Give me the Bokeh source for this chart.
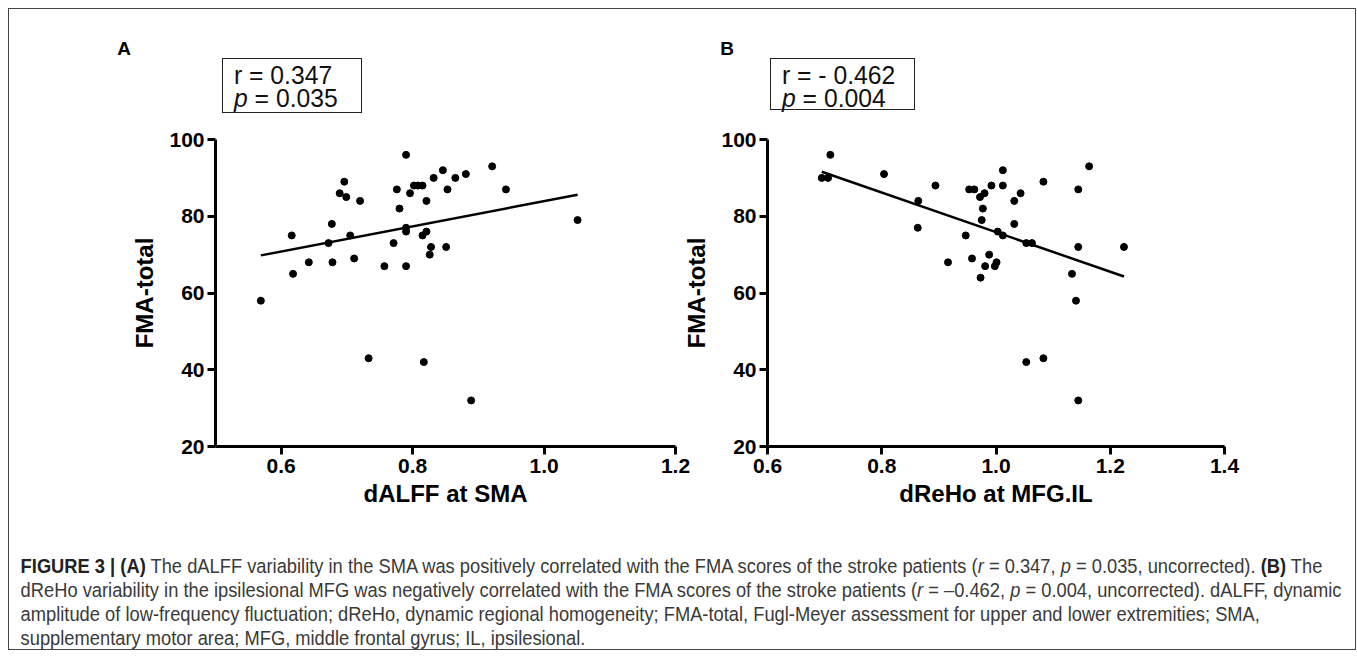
from bokeh.plotting import figure
from bokeh.models import Range1d, FixedTicker, PrintfTickFormatter, Div
from bokeh.layouts import row, column
from bokeh.embed import file_html
from bokeh.resources import INLINE

# ---------------- data ----------------
a_x = [0.569, 0.616, 0.618, 0.642, 0.672, 0.677, 0.678, 0.689, 0.696, 0.699,
       0.705, 0.711, 0.720, 0.733, 0.757, 0.771, 0.776, 0.780, 0.790, 0.790,
       0.790, 0.790, 0.796, 0.802, 0.808, 0.815, 0.821, 0.815, 0.821, 0.817,
       0.826, 0.828, 0.832, 0.846, 0.853, 0.851, 0.865, 0.881, 0.889, 0.921,
       0.942, 1.051]
a_y = [58, 75, 65, 68, 73, 78, 68, 86, 89, 85,
       75, 69, 84, 43, 67, 73, 87, 82, 96, 76,
       77, 67, 86, 88, 88, 88, 84, 75, 76, 42,
       70, 72, 90, 92, 87, 72, 90, 91, 32, 93,
       87, 79]
fit_a_x = [0.569, 1.051]
fit_a_y = [69.8, 85.6]

b_x = [0.695, 0.706, 0.710, 0.804, 0.864, 0.863, 0.894, 0.916, 0.947, 0.953,
       0.962, 0.958, 0.972, 0.980, 0.977, 0.975, 0.973, 0.981, 0.988, 0.992,
       0.998, 1.001, 1.003, 1.012, 1.012, 1.012, 1.032, 1.032, 1.043, 1.053,
       1.053, 1.063, 1.083, 1.083, 1.133, 1.140, 1.144, 1.144, 1.144, 1.163,
       1.224]
b_y = [90, 90, 96, 91, 84, 77, 88, 68, 75, 87,
       87, 69, 85, 86, 82, 79, 64, 67, 70, 88,
       67, 68, 76, 92, 88, 75, 84, 78, 86, 42,
       73, 73, 89, 43, 65, 58, 87, 72, 32, 93,
       72]
fit_b_x = [0.695, 1.224]
fit_b_y = [91.6, 64.3]

y_ticks = [20, 40, 60, 80, 100]
a_x_ticks = [0.6, 0.8, 1.0, 1.2]
b_x_ticks = [0.6, 0.8, 1.0, 1.2, 1.4]

stats_a = ["r = 0.347", "= 0.035"]
stats_b = ["r = - 0.462", "= 0.004"]

FONT = "Liberation Sans"


def style_axes(p, xticks, xlabel):
    p.xgrid.visible = False
    p.ygrid.visible = False
    p.outline_line_color = None
    p.xaxis.ticker = FixedTicker(ticks=xticks)
    p.yaxis.ticker = FixedTicker(ticks=y_ticks)
    p.xaxis.formatter = PrintfTickFormatter(format="%.1f")
    p.yaxis.formatter = PrintfTickFormatter(format="%d")
    p.xaxis.axis_label = xlabel
    p.yaxis.axis_label = "FMA-total"
    for ax in (p.xaxis[0], p.yaxis[0]):
        ax.axis_line_width = 3
        ax.axis_line_color = "black"
        ax.major_tick_line_width = 3
        ax.major_tick_line_color = "black"
        ax.major_tick_out = 8
        ax.major_tick_in = 0
        ax.minor_tick_line_color = None
        ax.major_label_text_font = FONT
        ax.major_label_text_font_style = "bold"
        ax.major_label_text_font_size = "21px"
        ax.major_label_text_color = "black"
        ax.axis_label_text_font = FONT
        ax.axis_label_text_font_style = "bold"
        ax.axis_label_text_font_size = "24px"
        ax.axis_label_text_color = "black"
    p.xaxis.major_label_standoff = 4
    p.xaxis.axis_label_standoff = 4
    p.yaxis.major_label_standoff = 3
    p.yaxis.axis_label_standoff = 8


# ---------------- panel A ----------------
pa = figure(frame_width=460, frame_height=307,
            min_border_left=206, min_border_right=17,
            min_border_top=24, min_border_bottom=94,
            x_range=Range1d(0.5, 1.2), y_range=Range1d(20, 100),
            output_backend="svg", toolbar_location=None,
            background_fill_color="white", border_fill_color="white")
style_axes(pa, a_x_ticks, "dALFF at SMA")
pa.scatter(a_x, a_y, size=7, color="black")
pa.line(fit_a_x, fit_a_y, line_width=2.5, color="black")

# ---------------- panel B ----------------
pb = figure(frame_width=457, frame_height=307,
            min_border_left=86, min_border_right=131,
            min_border_top=22, min_border_bottom=96,
            x_range=Range1d(0.6, 1.4), y_range=Range1d(20, 100),
            output_backend="svg", toolbar_location=None,
            background_fill_color="white", border_fill_color="white",
            border_fill_alpha=0.0,
            styles={"margin-left": "-12px"})
style_axes(pb, b_x_ticks, "dReHo at MFG.IL")
pb.scatter(b_x, b_y, size=7, color="black")
pb.line(fit_b_x, fit_b_y, line_width=2.5, color="black")

# ---------------- panel letters and statistics boxes ----------------
def stat_box(left, top, w, h, texts):
    txt = ("font-family:'Liberation Sans',sans-serif;font-size:26px;color:#111;"
           "position:absolute;left:11px;white-space:nowrap;"
           "transform:scaleX(0.95);transform-origin:left center;line-height:22px;height:22px;")
    return (f"<div style='position:absolute;left:{left}px;top:{top}px;width:{w}px;height:{h}px;"
            f"border:1.3px solid #222;box-sizing:border-box;'>"
            f"<div style=\"{txt}top:5px;\">{texts[0]}</div>"
            f"<div style=\"{txt}top:28px;\"><i>p</i> {texts[1]}</div>"
            f"</div>")


letter = ("position:absolute;font-family:'Liberation Sans',sans-serif;font-weight:bold;"
          "font-size:19px;color:#000;transform:translate(-50%,-50%);")
top_html = (
    "<div style='position:relative;width:1345px;height:106px;'>"
    f"<div style=\"{letter}left:115px;top:40px;\">A</div>"
    + stat_box(213, 49, 140, 55, stats_a)
    + f"<div style=\"{letter}left:718px;top:40px;\">B</div>"
    + stat_box(761, 49, 145, 52, stats_b)
    + "</div>"
)
top = Div(text=top_html, width=1345, height=106, margin=0)

# ---------------- caption ----------------
cap_html = (
    "<div style=\"font-family:'Liberation Sans',sans-serif;"
    "font-size:20.5px;line-height:24px;color:#3a3a3a;white-space:nowrap;"
    "padding:14px 0 0 13px;transform:scaleX(0.893);transform-origin:left top;\">"
    "<b style='color:#222'>FIGURE 3 | (A)</b> The dALFF variability in the SMA was positively "
    "correlated with the FMA scores of the stroke patients (<i>r</i> = 0.347, <i>p</i> = 0.035, "
    "uncorrected). <b style='color:#222'>(B)</b> The<br>"
    "dReHo variability in the ipsilesional MFG was negatively correlated with the FMA scores of "
    "the stroke patients (<i>r</i> = \u20130.462, <i>p</i> = 0.004, uncorrected). dALFF, dynamic<br>"
    "amplitude of low-frequency fluctuation; dReHo, dynamic regional homogeneity; FMA-total, "
    "Fugl-Meyer assessment for upper and lower extremities; SMA,<br>"
    "supplementary motor area; MFG, middle frontal gyrus; IL, ipsilesional."
    "</div>"
)
cap = Div(text=cap_html, width=1345, height=109, margin=0)

layout = column(top, row(pa, pb), cap,
                styles={"border": "1px solid #444", "background-color": "white",
                        "margin-left": "8px", "margin-top": "8px"})

open("out.html", "w").write(file_html(layout, INLINE))
